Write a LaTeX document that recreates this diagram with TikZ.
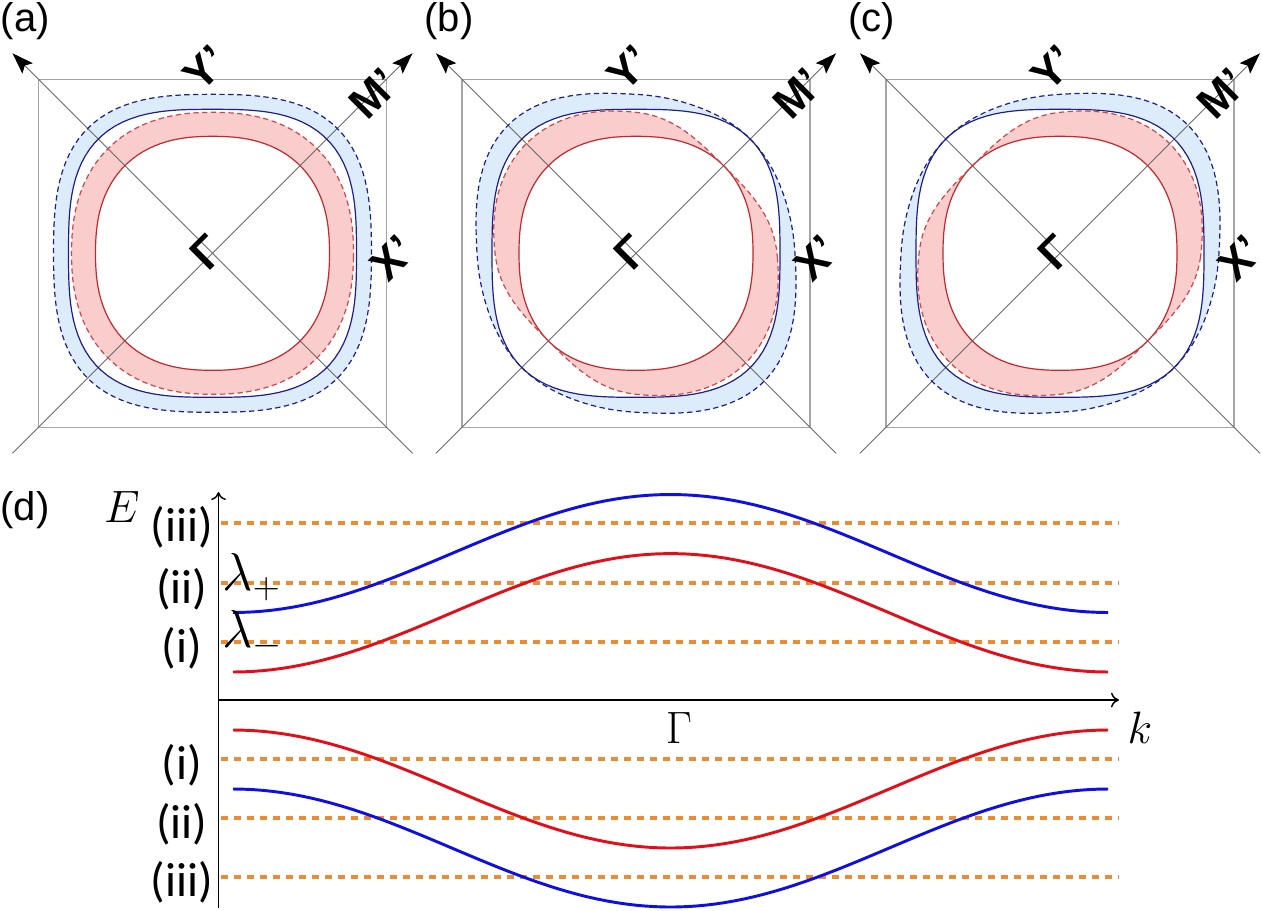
\documentclass[tikz,border=0pt]{standalone}
\usepackage{fix-cm}
\usepackage{fontspec}
\setmainfont{Liberation Sans}
\newfontfamily\calfont{Carlito}
\usepackage{tikz}
\usetikzlibrary{arrows.meta}
\definecolor{bandblue}{RGB}{221,236,251}
\definecolor{bandpink}{RGB}{250,205,205}
\definecolor{fsblue}{RGB}{30,30,140}
\definecolor{fsred}{RGB}{195,40,45}
\definecolor{fsredd}{RGB}{205,70,75}
\definecolor{bzgray}{RGB}{165,165,165}
\definecolor{axgray}{RGB}{105,105,105}
\definecolor{lvorange}{RGB}{236,140,50}
\definecolor{dblue}{RGB}{15,15,225}
\definecolor{dred}{RGB}{225,15,25}
\tikzset{every picture/.style={line width=0.75pt}}
\tikzset{
  fsplot/.style={domain=1.5:361.5,samples=121,variable=\t},
  fsline/.style={line width=0.9pt},
  fsdash/.style={line width=0.9pt,dash pattern=on 4pt off 2.6pt},
  bzlabel/.style={font=\fontsize{33}{38}\selectfont\bfseries,rotate=45,inner sep=0pt},
  panlabel/.style={font=\fontsize{30}{36}\selectfont,anchor=west,inner sep=0pt},
  lvlabel/.style={font=\calfont\fontsize{36}{40}\selectfont,inner sep=0pt},
  mathlabel/.style={font=\fontsize{34}{40}\selectfont,inner sep=0pt,anchor=base},
  fermilvl/.style={lvorange,line width=2.4pt,dash pattern=on 5pt off 4.75pt},
  bandcurve/.style={line width=2.2pt},
  declare function={rsq(\t,\a,\n)=\a/((abs(cos(\t))^\n+abs(sin(\t))^\n)^(1/\n));
    dsh(\g)=1+0.3*\g-0.7*(\g<0)*\g*\g;}
}

\begin{document}
\begin{tikzpicture}[x=0.75pt,y=0.75pt,yscale=-1]
\useasboundingbox (0,0) rectangle (1262,910);

%Fermi surfaces (a)-(c)
\foreach \cx/\s/\lab in {212.5/0/a,636/1/b,1060/-1/c}{
\begin{scope}[shift={(\cx,253.3)}]
%Shape: blue band
\fill[bandblue,even odd rule] plot[fsplot] ({\t}:{rsq(\t,144,3.0)}) -- cycle
  plot[fsplot] ({\t}:{rsq(\t,144,3.0)+15*dsh((\s)*sin(2*\t))}) -- cycle;
%Shape: red band
\fill[bandpink,even odd rule] plot[fsplot] ({\t}:{rsq(\t,117,2.4)}) -- cycle
  plot[fsplot] ({\t}:{rsq(\t,117,2.4)+24*dsh((\s)*sin(2*\t))}) -- cycle;
%Shape: zone and diagonals
\draw[bzgray,line width=1pt] (-174,-174) rectangle (174,174);
\draw[axgray,line width=0.7pt,-{Stealth[length=16pt,width=11pt,inset=3pt,color=black]}] (-200,200) -- (200,-200);
\draw[axgray,line width=0.7pt,-{Stealth[length=16pt,width=11pt,inset=3pt,color=black]}] (200,200) -- (-200,-200);
%Shape: contours
\draw[fsblue,fsline] plot[fsplot] ({\t}:{rsq(\t,144,3.0)}) -- cycle;
\draw[fsblue,fsdash] plot[fsplot] ({\t}:{rsq(\t,144,3.0)+15*dsh((\s)*sin(2*\t))}) -- cycle;
\draw[fsred,fsline] plot[fsplot] ({\t}:{rsq(\t,117,2.4)}) -- cycle;
\draw[fsredd,fsdash] plot[fsplot] ({\t}:{rsq(\t,117,2.4)+24*dsh((\s)*sin(2*\t))}) -- cycle;
%labels
\node[bzlabel] (Y\lab) at (-7,-185) {Y'};
\node[bzlabel] (M\lab) at (162,-160) {M'};
\node[bzlabel] (X\lab) at (180,5) {X'};
\node[bzlabel] (G\lab) at (-5,-1) {Γ};
\node[panlabel] (lab\lab) at (-212,-232) {(\lab)};
\end{scope}
}

%Panel (d)
\node[panlabel] (labd) at (0,510) {(d)};
\coordinate (orig) at (218.5,700);
\coordinate (Etop) at (218.5,492);
\coordinate (Ebot) at (218.5,908);
\coordinate (ktip) at (1119,700);
%Straight Lines: levels
\foreach \y in {523,583,642,759,818,877}
  \draw[fermilvl] (221,\y) -- (1119,\y);
%Curves: bands
\draw[bandcurve,dblue] plot[domain=0:360,samples=90,variable=\t] ({233+2.4306*\t},{612.5-59*(1-cos(\t))});
\draw[bandcurve,dred] plot[domain=0:360,samples=90,variable=\t] ({233+2.4306*\t},{672-59.2*(1-cos(\t))});
\draw[bandcurve,dred] plot[domain=0:360,samples=90,variable=\t] ({233+2.4306*\t},{730+59*(1-cos(\t))});
\draw[bandcurve,dblue] plot[domain=0:360,samples=90,variable=\t] ({233+2.4306*\t},{789+59*(1-cos(\t))});
%Straight Lines: axes
\draw[line width=1.1pt,-{To[length=6pt,width=11pt]}] (Ebot) -- (Etop);
\draw[line width=1.1pt,-{To[length=6pt,width=11pt]}] (orig) -- (ktip);
%labels
\node[mathlabel] (Elab) at (122,522) {$E$};
\node[mathlabel] (Glab) at (679,743) {$\Gamma$};
\node[mathlabel] (klab) at (1140,743) {$k$};
\node[mathlabel,font=\fontsize{40}{46}\selectfont,anchor=base west] (lamp) at (222,590) {$\lambda_+$};
\node[mathlabel,font=\fontsize{40}{46}\selectfont,anchor=base west] (lamm) at (222,647) {$\lambda_-$};
\node[lvlabel] (lvA3) at (182,527) {(iii)};
\node[lvlabel] (lvA2) at (182,589) {(ii)};
\node[lvlabel] (lvA1) at (182,648) {(i)};
\node[lvlabel] (lvB1) at (182,765) {(i)};
\node[lvlabel] (lvB2) at (182,824) {(ii)};
\node[lvlabel] (lvB3) at (182,882) {(iii)};

\end{tikzpicture}
\end{document}
